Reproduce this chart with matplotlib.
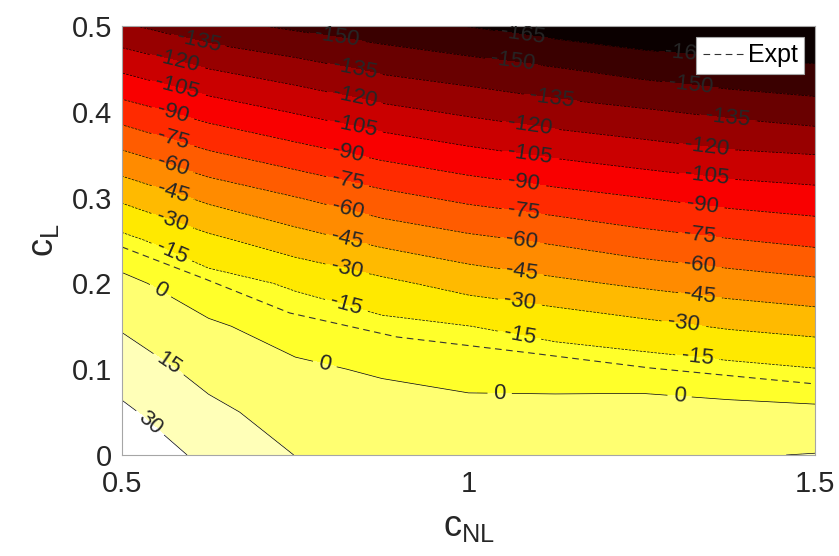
import numpy as np
import matplotlib
matplotlib.use("Agg")
import matplotlib.pyplot as plt

plt.rcParams['font.family'] = ['Liberation Sans', 'DejaVu Sans']
plt.rcParams['mathtext.fontset'] = 'custom'
plt.rcParams['mathtext.rm'] = 'Liberation Sans'
plt.rcParams['mathtext.it'] = 'Liberation Sans'

# grid: rows = c_L, columns = c_NL
c_nl = np.array([0.5, 0.625, 0.75, 0.875, 1.0, 1.125, 1.25, 1.375, 1.5])
c_l = np.array([0.0, 0.05, 0.1, 0.15, 0.2, 0.25, 0.3, 0.35, 0.4, 0.45, 0.5])
vals = np.array([
    [42.1, 26.0, 14.8, 13.0, 11.0, 11.5, 13.0, 14.0, 15.5],
    [32.6, 18.4, 8.9, 5.4, 3.8, 4.1, 5.5, 4.4, 3.3],
    [23.2, 10.2, 2.2, -1.5, -4.7, -5.6, -7.1, -10.8, -14.5],
    [13.6, 2.0, -5.6, -11.0, -14.8, -20.3, -26.1, -31.5, -35.2],
    [3.7, -8.8, -17.1, -26.5, -35.7, -41.9, -47.5, -52.5, -56.8],
    [-10.9, -26.3, -38.3, -48.7, -56.4, -62.2, -69.0, -74.0, -78.5],
    [-32.9, -48.5, -59.6, -70.5, -78.5, -84.5, -90.0, -95.4, -98.9],
    [-57.2, -72.7, -83.3, -93.1, -100.7, -107.0, -112.5, -117.5, -120.0],
    [-82.8, -96.2, -106.0, -115.6, -122.5, -128.8, -133.1, -138.2, -142.7],
    [-107.4, -120.0, -128.6, -137.9, -143.4, -149.1, -155.5, -160.5, -163.1],
    [-133.0, -145.3, -152.7, -158.9, -165.5, -172.0, -177.0, -178.0, -179.0],
])

# experimental curve
expt_nl = [0.5, 0.62, 0.742, 0.897, 1.089, 1.262, 1.5]
expt_l = [0.2424, 0.2051, 0.1655, 0.1375, 0.1189, 0.1014, 0.0828]

levels = np.arange(-180, 46, 15)
line_levels = np.arange(-165, 31, 15)

# where the contour labels sit
label_pos = [
    (0.61, 0.481), (0.579, 0.457), (0.579, 0.425), (0.572, 0.395), (0.572, 0.365),
    (0.572, 0.334), (0.572, 0.303), (0.572, 0.272), (0.572, 0.237), (0.558, 0.195),
    (0.565, 0.103), (0.536, 0.033),
    (0.81, 0.484), (0.836, 0.449), (0.836, 0.416), (0.836, 0.382), (0.825, 0.35),
    (0.825, 0.317), (0.825, 0.283), (0.825, 0.251), (0.825, 0.218), (0.825, 0.178),
    (0.793, 0.107),
    (1.079, 0.49), (1.064, 0.457), (1.12, 0.416), (1.089, 0.385), (1.089, 0.35),
    (1.079, 0.317), (1.079, 0.282), (1.077, 0.248), (1.077, 0.212), (1.074, 0.178),
    (1.074, 0.142), (1.045, 0.073),
    (1.315, 0.466), (1.32, 0.431), (1.374, 0.393), (1.344, 0.359), (1.344, 0.324),
    (1.337, 0.291), (1.334, 0.256), (1.334, 0.221), (1.334, 0.186), (1.31, 0.152),
    (1.33, 0.114), (1.305, 0.073),
]

fig = plt.figure(figsize=(8.39, 5.56), dpi=100)
ax = fig.add_axes([0.1454, 0.1817, 0.826, 0.7716])

cf = ax.contourf(c_nl, c_l, vals, levels=levels, cmap='hot', vmin=-172.5, vmax=37.5)
cs = ax.contour(c_nl, c_l, vals, levels=line_levels, colors='k', linewidths=0.5)
ax.clabel(cs, fmt='%d', fontsize=16, colors='#262626', manual=label_pos,
          inline=True, inline_spacing=6)

ax.plot(expt_nl, expt_l, color='#333333', lw=0.8, dashes=(6, 4), label='Expt')

ax.set_xlim(0.5, 1.5)
ax.set_ylim(0, 0.5)
ax.set_xticks([0.5, 1, 1.5])
ax.set_xticklabels(['0.5', '1', '1.5'])
ax.set_yticks([0, 0.1, 0.2, 0.3, 0.4, 0.5])
ax.set_yticklabels(['0', '0.1', '0.2', '0.3', '0.4', '0.5'])
ax.tick_params(axis='both', length=0, labelsize=21, labelcolor='#262626')
ax.tick_params(axis='x', pad=11)
ax.tick_params(axis='y', pad=7)
for s in ax.spines.values():
    s.set_color('#a6a6a6')
    s.set_linewidth(0.8)

ax.set_xlabel(r'$\mathregular{c_{NL}}$', fontsize=26, color='#262626', labelpad=8)
ax.set_ylabel(r'$\mathregular{c_{L}}$', fontsize=26, color='#262626', labelpad=8)

leg = ax.legend(loc='upper right', fontsize=18, fancybox=False, framealpha=1,
                edgecolor='#a6a6a6', handlelength=1.6, handletextpad=0.2,
                borderpad=0.25, borderaxespad=0.45)
leg.get_frame().set_linewidth(0.8)

fig.savefig('out.png', dpi=100)
